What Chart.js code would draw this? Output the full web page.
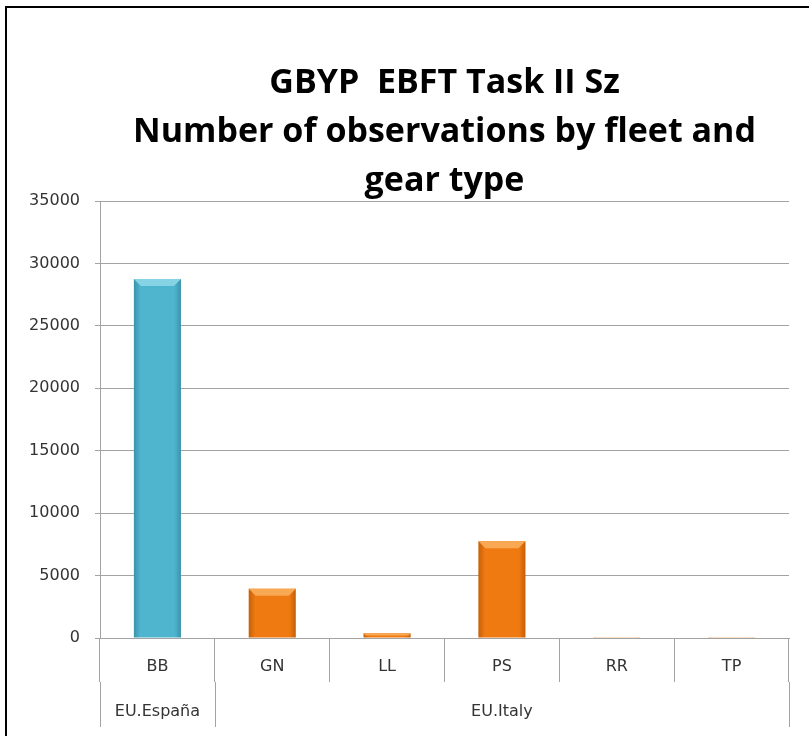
<!DOCTYPE html>
<html>
<head>
<meta charset="utf-8">
<title>GBYP EBFT Task II Sz</title>
<script src="https://cdn.jsdelivr.net/npm/chart.js@4/dist/chart.umd.min.js"></script>
<style>
html,body{margin:0;padding:0;background:#fff}
#wrap{position:relative;width:809px;height:736px;overflow:hidden}
#frame{position:absolute;left:5px;top:6px;width:900px;height:900px;border-left:2px solid #000;border-top:2px solid #000}
canvas{position:absolute;left:0;top:0}
</style>
</head>
<body>
<div id="wrap">
  <div id="frame"></div>
  <canvas id="chart" width="809" height="736"></canvas>
</div>
<script>
// dados
const gears = ['BB','GN','LL','PS','RR','TP'];
const observations = [28750, 3950, 380, 7750, 25, 20];
const fleets = ['EU.España','EU.Italy'];
const fleetSizes = [1, 5]; // quantas categorias cada frota cobre
const yTicks = [0,5000,10000,15000,20000,25000,30000,35000];

// cores por frota (estilo)
const fleetColors = [
  {edge:'#3a93aa', mid:'#4fb5cf', top:'#86d3e6'},
  {edge:'#c45f08', mid:'#f07a12', top:'#f9a853'}
];

function fleetOf(i){
  let acc = 0;
  for(let f=0; f<fleetSizes.length; f++){
    acc += fleetSizes[f];
    if(i < acc) return f;
  }
  return fleetSizes.length-1;
}

const BAR_PCT = 0.41;
const tickFont = {family:'"DejaVu Sans"', size:16};
const gridColor = '#a3a3a3';
const textColor = '#333333';

// desenha a linha das frotas e o bisel dos topos
const extrasPlugin = {
  id:'extras',
  afterDatasetsDraw(chart){
    const ctx = chart.ctx;
    const meta = chart.getDatasetMeta(0);
    meta.data.forEach((bar,i)=>{
      const p = bar.getProps(['x','y','base','width'], true);
      const h = p.base - p.y;
      if(h < 3) return;
      const c = fleetColors[fleetOf(i)];
      const bev = Math.min(7, h/2);
      const l = p.x - p.width/2, r = p.x + p.width/2;
      ctx.save();
      ctx.fillStyle = c.top;
      ctx.beginPath();
      ctx.moveTo(l, p.y); ctx.lineTo(r, p.y);
      ctx.lineTo(r-bev, p.y+bev); ctx.lineTo(l+bev, p.y+bev);
      ctx.closePath(); ctx.fill();
      ctx.restore();
    });
  },
  afterDraw(chart){
    const ctx = chart.ctx;
    const xs = chart.scales.x;
    const area = chart.chartArea;
    const step = xs.width / gears.length;
    const y0 = area.bottom + 44, y1 = area.bottom + 89;
    ctx.save();
    ctx.strokeStyle = gridColor;
    ctx.lineWidth = 1;
    ctx.fillStyle = textColor;
    ctx.font = '16px "DejaVu Sans"';
    ctx.textAlign = 'center';
    ctx.textBaseline = 'middle';
    let start = 0;
    const bounds = [xs.getPixelForValue(0) - step/2];
    fleets.forEach((name,f)=>{
      const end = start + fleetSizes[f] - 1;
      const left = xs.getPixelForValue(start) - step/2;
      const right = xs.getPixelForValue(end) + step/2;
      bounds.push(right);
      ctx.fillText(name, (left+right)/2, area.bottom + 74);
      start = end + 1;
    });
    bounds.forEach(b=>{
      const bx = Math.round(b) + 0.5;
      ctx.beginPath(); ctx.moveTo(bx, y0); ctx.lineTo(bx, y1); ctx.stroke();
    });
    ctx.restore();
  }
};

new Chart(document.getElementById('chart'), {
  type:'bar',
  data:{
    labels: gears,
    datasets:[{
      data: observations,
      barPercentage: BAR_PCT,
      categoryPercentage: 1,
      borderWidth: 0,
      backgroundColor: c => {
        const col = fleetColors[fleetOf(c.dataIndex)];
        const chart = c.chart;
        if(!chart.chartArea) return col.mid;
        const xs = chart.scales.x;
        const cx = xs.getPixelForValue(c.dataIndex);
        const w = xs.width / gears.length * BAR_PCT;
        const g = chart.ctx.createLinearGradient(cx - w/2, 0, cx + w/2, 0);
        g.addColorStop(0, col.edge);
        g.addColorStop(0.14, col.mid);
        g.addColorStop(0.86, col.mid);
        g.addColorStop(1, col.edge);
        return g;
      }
    }]
  },
  options:{
    responsive:false,
    animation:false,
    devicePixelRatio:1,
    layout:{padding:{left:0, right:20, top:0, bottom:0}},
    plugins:{
      legend:{display:false},
      tooltip:{enabled:false},
      title:{
        display:true,
        fullSize:false,
        text:['GBYP  EBFT Task II Sz','Number of observations by fleet and','gear type'],
        color:'#000',
        font:{family:'"Open Sans"', weight:'bold', size:34, lineHeight:'49px'},
        padding:{top:59, bottom:-5}
      }
    },
    scales:{
      x:{
        grid:{offset:true, drawOnChartArea:false, color:gridColor, tickLength:44},
        border:{color:gridColor},
        ticks:{color:textColor, font:tickFont, padding:-25},
        afterFit: s => { s.height = 98; }
      },
      y:{
        min:0, max:35000,
        afterBuildTicks: s => { s.ticks = yTicks.map(v=>({value:v})); },
        grid:{color:gridColor, tickLength:5},
        border:{color:gridColor},
        ticks:{color:textColor, font:tickFont, padding:15, callback: v => String(v)},
        afterFit: s => { s.width = 100; }
      }
    }
  },
  plugins:[extrasPlugin]
});
</script>
</body>
</html>
